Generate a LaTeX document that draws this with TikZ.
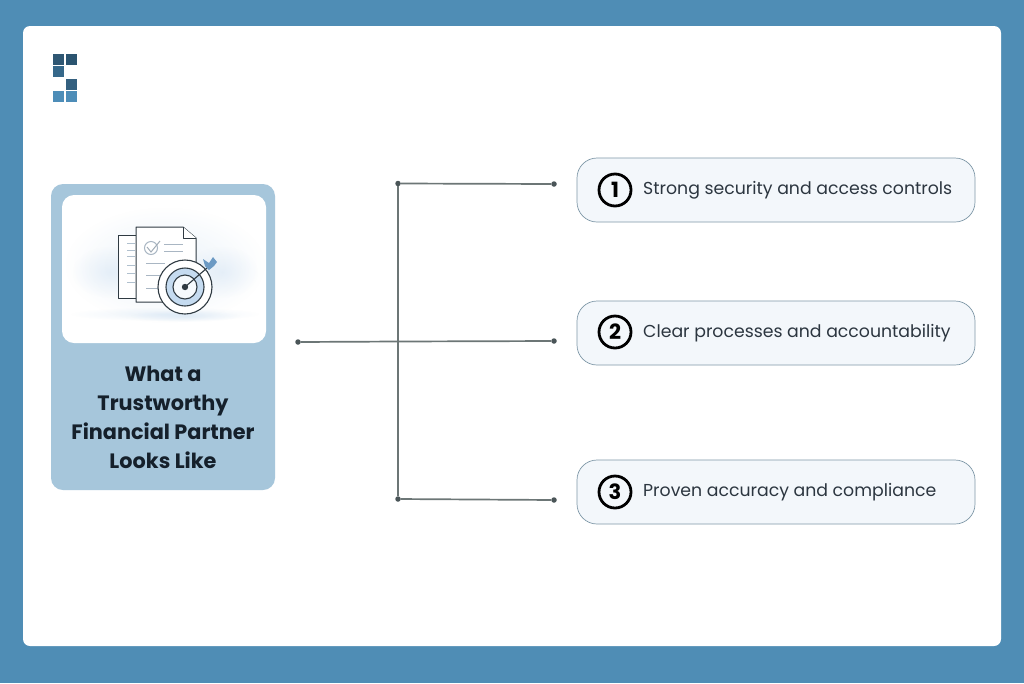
\documentclass[tikz,border=0pt]{standalone}
\usepackage{fontspec}
\setmainfont{Poppins}
\usetikzlibrary{calc,fadings}
\definecolor{framecol}{HTML}{4F8DB5}
\definecolor{cardcol}{HTML}{A6C6DB}
\definecolor{boxcol}{HTML}{F3F7FB}
\definecolor{boxline}{HTML}{7F98A8}
\definecolor{linecol}{HTML}{6C7676}
\definecolor{dotcol}{HTML}{4A5558}
\definecolor{inkcol}{HTML}{15202B}
\definecolor{skycol}{HTML}{C5DBF0}
\definecolor{pencol}{HTML}{2F3A42}
\definecolor{dartcol}{HTML}{6C9AC4}
\tikzset{
  stepbox/.style={draw=boxline, fill=boxcol, line width=.7pt, rounded corners=20pt, minimum width=398pt, minimum height=64pt, inner sep=0pt},
  numcirc/.style={circle, draw=black, line width=2.8pt, fill=none, minimum size=32pt, inner sep=0pt, font=\fontsize{21}{21}\selectfont\bfseries},
  steptext/.style={anchor=base west, inner sep=0pt, text=inkcol!90, font=\fontsize{17.3}{20}\selectfont},
  enddot/.style={circle, fill=dotcol, minimum size=5.5pt, inner sep=0pt},
  conn/.style={draw=linecol, line width=1.7pt},
  haze/.style={fill=skycol, path fading=fuzzy},
  pageline/.style={draw=pencol, line width=1pt, line join=round}
}
\tikzfading[name=fuzzy, inner color=transparent!65, outer color=transparent!100]
\begin{document}
\begin{tikzpicture}[x=1pt,y=-1pt]
  \useasboundingbox (0,0) rectangle (1024,683);
  \fill[framecol] (0,0) rectangle (1024,683);
  \fill[white, rounded corners=7pt] (23,26) rectangle (1001,646);

  % logo
  \foreach \x/\y/\c in {58.5/59/2F5773, 71.5/59/2B5470, 58.5/71.5/36688A,
                        71.5/84/34607F, 58.5/96.5/4D8DB8, 71.5/96.5/4D8DB8} {
    \definecolor{sqcol}{HTML}{\c}
    \fill[sqcol] (\x-5.5,\y-5.5) rectangle (\x+5.5,\y+5.5);
  }

  % card
  \fill[cardcol, rounded corners=12pt] (51,184) rectangle (275,490);
  \fill[white, rounded corners=12pt] (62,195) rectangle (266,343);
  \node[text=inkcol, align=center, inner sep=0pt, font=\fontsize{20.8}{29}\selectfont\bfseries] (title) at (163,417.5)
    {What a\\Trustworthy\\Financial Partner\\Looks Like};

  % picture in the card
  \fill[haze] (165,265) ellipse (100 and 58);
  \fill[haze] (110,272) ellipse (38 and 26);
  \fill[haze] (222,272) ellipse (36 and 26);
  \fill[haze] (165,314) ellipse (95 and 7);
  \fill[haze] (185,316) ellipse (55 and 6);
  \draw[pageline, fill=white] (118,235) rectangle (140,298);
  \foreach \y in {243,250,256,265,273,282}
    \draw[skycol!70!gray, line width=.8pt] (127,\y) -- (135,\y);
  \draw[pageline, fill=white] (136,227) -- (183,227) -- (196,238) -- (196,302) -- (136,302) -- cycle;
  \draw[pageline, fill=white] (183,227) -- (183,238) -- (196,238);
  \draw[skycol!60!gray, line width=1pt] (151,248) circle (6.5);
  \draw[skycol!50!gray, line width=1pt] (147,247) -- (151,252) -- (160,241);
  \foreach \y/\e in {244/183, 251/183, 263/165, 275/170, 288/165}
    \draw[skycol!60!gray, line width=.8pt] (\ifnum\y<260 164\else 146\fi,\y) -- (\e,\y);
  \draw[pageline, fill=white, line width=1.1pt] (185,287) circle (27);
  \draw[pageline, fill=skycol, line width=1.1pt] (185,287) circle (19);
  \draw[pageline, fill=white!85!skycol, line width=1.1pt] (185,287) circle (12);
  \fill[pencol] (185,287) circle (3.2);
  \draw[pencol, line width=1.1pt] (185,287) -- (207,268);
  \fill[dartcol] (205,266) -- (203,259) -- (209,263) -- (213,257) -- (217,262) -- (214,266) -- (209,270) -- cycle;

  % steps
  \node[stepbox] (box1) at (776,190) {};
  \node[stepbox] (box2) at (776,333) {};
  \node[stepbox] (box3) at (776,492) {};
  \node[numcirc] (num1) at (615,190) {1};
  \node[numcirc] (num2) at (615,332) {2};
  \node[numcirc] (num3) at (615,492) {3};
  \node[steptext] (text1) at (643,194.5) {Strong security and access controls};
  \node[steptext] (text2) at (643,337) {Clear processes and accountability};
  \node[steptext] (text3) at (643,496) {Proven accuracy and compliance};

  % connectors
  \node[enddot] (start) at (298,342) {};
  \node[enddot] (top) at (398,183.5) {};
  \node[enddot] (bot) at (398,499) {};
  \node[enddot] (end1) at (554,184) {};
  \node[enddot] (end2) at (554,341) {};
  \node[enddot] (end3) at (554,500) {};
  \coordinate (mid) at (398,341.5);
  \draw[conn] (start) -- (mid);
  \draw[conn] (top) -- (bot);
  \draw[conn] (top) -- (end1);
  \draw[conn] (mid) -- (end2);
  \draw[conn] (bot) -- (end3);
\end{tikzpicture}
\end{document}
